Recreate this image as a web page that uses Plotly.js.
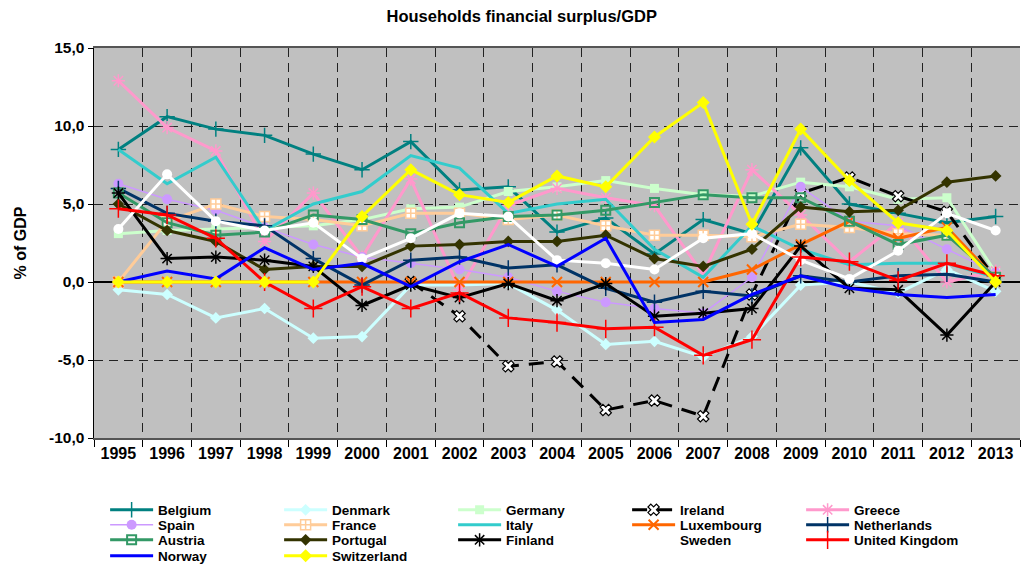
<!DOCTYPE html>
<html>
<head>
<meta charset="utf-8">
<script src="https://cdn.plot.ly/plotly-3.0.1.min.js"></script>
<style>html,body{margin:0;padding:0;background:#fff;}#chart{width:1021px;height:567px;}</style>
</head>
<body>
<div id="chart"></div>
<script>
const years = ['1995','1996','1997','1998','1999','2000','2001','2002','2003','2004','2005','2006','2007','2008','2009','2010','2011','2012','2013'];
const yTickVals = [-10, -5, 0, 5, 10, 15];
const yTickText = ['-10,0', '-5,0', '0,0', '5,0', '10,0', '15,0'];

const belgium     = [8.5, 10.6, 9.8, 9.4, 8.2, 7.2, 9.0, 5.9, 6.1, 3.2, 4.1, 1.8, 4.0, 3.1, 8.6, 5.0, 4.4, 3.8, 4.2];
const denmark     = [-0.5, -0.8, -2.3, -1.7, -3.6, -3.5, -0.2, -0.2, -0.1, -1.8, -4.0, -3.8, -4.8, -3.5, -0.2, 0.0, -0.7, 0.8, -0.6];
const germany     = [3.1, 3.3, 3.4, 3.5, 3.6, 4.0, 4.7, 4.8, 5.8, 6.1, 6.5, 6.0, 5.6, 5.5, 6.4, 6.1, 5.3, 5.4, 0.6];
const ireland     = [null, null, null, null, null, null, 0.0, -2.2, -5.4, -5.1, -8.2, -7.6, -8.6, -0.8, 5.7, 6.7, 5.5, 4.5, 0.2];
const greece      = [12.9, 9.9, 8.4, 2.6, 5.7, 1.6, 6.6, -0.5, 4.9, 6.0, 5.4, 4.9, 0.5, 7.2, 4.3, 1.3, 3.8, 0.0, 0.7];
const spain       = [6.3, 5.3, 4.6, 3.5, 2.4, 1.6, 1.2, 0.8, 0.3, -0.6, -1.3, -1.7, -2.0, 0.3, 6.1, 3.9, 3.6, 2.1, 0.6];
const france      = [0.0, 3.9, 5.0, 4.2, 4.0, 3.6, 4.4, 4.4, 4.0, 4.3, 3.6, 3.0, 3.0, 2.9, 3.7, 3.5, 3.1, 3.0, 0.3];
const italy       = [8.5, 6.3, 8.0, 3.3, 5.0, 5.8, 8.1, 7.3, 4.4, 5.0, 5.3, 2.1, 0.3, 3.6, 2.1, 1.1, 1.2, 1.2, 0.3];
const luxembourg  = [0.0, 0.0, 0.0, 0.0, 0.0, 0.0, 0.0, 0.0, 0.0, 0.0, 0.0, 0.0, 0.0, 0.8, 2.4, 3.9, 2.8, 3.5, 0.2];
const netherlands = [6.0, 4.4, 3.9, 3.6, 1.5, -0.2, 1.4, 1.6, 0.9, 1.1, -0.4, -1.3, -0.6, -0.9, 0.4, 0.0, 0.4, 0.5, 0.0];
const austria     = [5.7, 3.8, 3.0, 3.2, 4.3, 4.0, 3.1, 3.8, 4.2, 4.3, 4.6, 5.1, 5.6, 5.4, 5.4, 3.9, 2.4, 3.0, 0.3];
const portugal    = [5.0, 3.3, 2.6, 0.8, 1.0, 1.0, 2.3, 2.4, 2.6, 2.6, 3.0, 1.5, 1.0, 2.1, 4.8, 4.5, 4.6, 6.4, 6.8];
const finland     = [5.7, 1.5, 1.6, 1.4, 1.0, -1.5, -0.2, -1.0, -0.1, -1.2, -0.1, -2.2, -2.0, -1.7, 2.3, -0.4, -0.5, -3.4, 0.0];
const sweden      = [3.4, 6.9, 3.9, 3.3, 3.8, 1.5, 2.8, 4.4, 4.2, 1.4, 1.2, 0.8, 2.8, 3.1, 1.4, 0.2, 2.0, 4.4, 3.3];
const uk          = [4.7, 4.3, 2.8, 0.0, -1.7, -0.3, -1.7, -0.7, -2.3, -2.6, -3.0, -2.9, -4.7, -3.7, 1.6, 1.3, 0.1, 1.2, 0.4];
const norway      = [0.0, 0.7, 0.2, 2.2, 0.8, 1.2, -0.3, 1.3, 2.4, 1.0, 2.8, -2.6, -2.4, -0.8, 0.4, -0.4, -0.8, -1.0, -0.8];
const switzerland = [0.0, 0.0, 0.0, 0.0, 0.0, 4.2, 7.2, 5.6, 5.1, 6.8, 6.1, 9.3, 11.5, 3.7, 9.8, 6.5, 3.8, 3.3, 0.0];

const countryNames = ['Belgium','Denmark','Germany','Ireland','Greece','Spain','France','Italy','Luxembourg','Netherlands','Austria','Portugal','Finland','Sweden','United Kingdom','Norway','Switzerland'];
const countryValues = [belgium, denmark, germany, ireland, greece, spain, france, italy, luxembourg, netherlands, austria, portugal, finland, sweden, uk, norway, switzerland];

const styles = [
  {c:'#008080', w:3, m:{symbol:'cross-thin', size:11, line:{color:'#008080', width:1.5}}},
  {c:'#CCFFFF', w:3, m:{symbol:'diamond', size:9, color:'#CCFFFF'}},
  {c:'#CCFFCC', w:3, m:{symbol:'square', size:9, color:'#CCFFCC'}},
  {c:'#000000', w:3, dash:'15px,10px', m:{symbol:'x', size:10, color:'#FFFFFF', line:{color:'#000000', width:1.2}}},
  {c:'#FF99CC', w:3, m:{symbol:'asterisk', size:11, line:{color:'#FF99CC', width:1.5}}},
  {c:'#CC99FF', w:1.5, m:{symbol:'circle', size:10, color:'#CC99FF'}},
  {c:'#FFCC99', w:3, m:{symbol:'square-cross', size:10, color:'#FFFFFF', line:{color:'#FFCC99', width:1.5}}},
  {c:'#33CCCC', w:3, m:null},
  {c:'#FF6600', w:3, m:{symbol:'x-thin', size:10, line:{color:'#FF6600', width:2}}},
  {c:'#003366', w:3, m:{symbol:'cross-thin', size:11, line:{color:'#003366', width:1.5}}},
  {c:'#339966', w:3, m:{symbol:'square-open', size:9, color:'#339966', line:{width:2}}},
  {c:'#333300', w:3, m:{symbol:'diamond', size:9, color:'#333300'}},
  {c:'#000000', w:3, m:{symbol:'asterisk', size:11, line:{color:'#000000', width:1.5}}},
  {c:'#FFFFFF', w:3, m:{symbol:'circle', size:10, color:'#FFFFFF'}},
  {c:'#FF0000', w:3, m:{symbol:'cross-thin', size:13, line:{color:'#FF0000', width:1.5}}},
  {c:'#0000FF', w:3, m:null},
  {c:'#FFFF00', w:3, m:{symbol:'diamond', size:10, color:'#FFFF00'}}
];

const legendIds = ['legend','legend','legend','legend','legend','legend2','legend2','legend2','legend2','legend2','legend3','legend3','legend3','legend3','legend3','legend4','legend4'];

const traces = countryNames.map((name, i) => {
  const s = styles[i];
  const t = {
    type:'scatter', x: years, y: countryValues[i], name: name,
    mode: s.m ? 'lines+markers' : 'lines',
    line: {color: s.c, width: s.w, dash: s.dash || 'solid'},
    legend: legendIds[i],
    connectgaps: false,
    hoverinfo: 'x+y+name'
  };
  if (s.m) t.marker = s.m;
  return t;
});

const fontFam = '"Liberation Sans", Arial, sans-serif';
const legFont = {family: fontFam, size: 13.5, color:'#000', weight:'bold'};
function leg(y){
  return {orientation:'h', x:0.012, xanchor:'left', y:y, yref:'container', yanchor:'middle',
          bgcolor:'rgba(0,0,0,0)', borderwidth:0, font:legFont,
          entrywidth:116, entrywidthmode:'pixels', itemwidth:43, tracegroupgap:0, itemclick:false};
}

const layout = {
  width:1021, height:567,
  margin:{l:94, r:1, t:48, b:129, autoexpand:false},
  paper_bgcolor:'#FFFFFF', plot_bgcolor:'#C0C0C0',
  font:{family: fontFam, color:'#000'},
  title:{text:'Households financial surplus/GDP', x:0.511, xref:'container', xanchor:'center', y:0.972, yref:'container', yanchor:'middle',
         font:{family: fontFam, size:16.5, weight:'bold', color:'#000'}},
  xaxis:{type:'category', range:[-0.5, 18.5], tickson:'boundaries', ticks:'outside', ticklen:7, tickcolor:'#000', tickwidth:1,
         showgrid:true, gridcolor:'#222', gridwidth:1, griddash:'9px,6px',
         showline:true, linecolor:'#555', linewidth:2, mirror:true,
         tickfont:{family: fontFam, size:16, weight:'bold', color:'#000'}, fixedrange:true},
  yaxis:{range:[-10, 15], tickvals:yTickVals, ticktext:yTickText, ticks:'outside', ticklen:5, tickcolor:'#000',
         showgrid:true, gridcolor:'#222', gridwidth:1, griddash:'9px,6px',
         zeroline:true, zerolinecolor:'#000', zerolinewidth:2,
         showline:true, linecolor:'#000', linewidth:1.5,
         tickfont:{family: fontFam, size:15.5, weight:'bold', color:'#000'},
         title:{text:'% of GDP', standoff:18, font:{family: fontFam, size:16, weight:'bold', color:'#000'}}, fixedrange:true},
  legend: leg(0.1005),
  legend2: leg(0.0741),
  legend3: leg(0.0476),
  legend4: leg(0.0194),
  showlegend:true
};

Plotly.newPlot('chart', traces, layout, {displayModeBar:false, staticPlot:true});
</script>
</body>
</html>
